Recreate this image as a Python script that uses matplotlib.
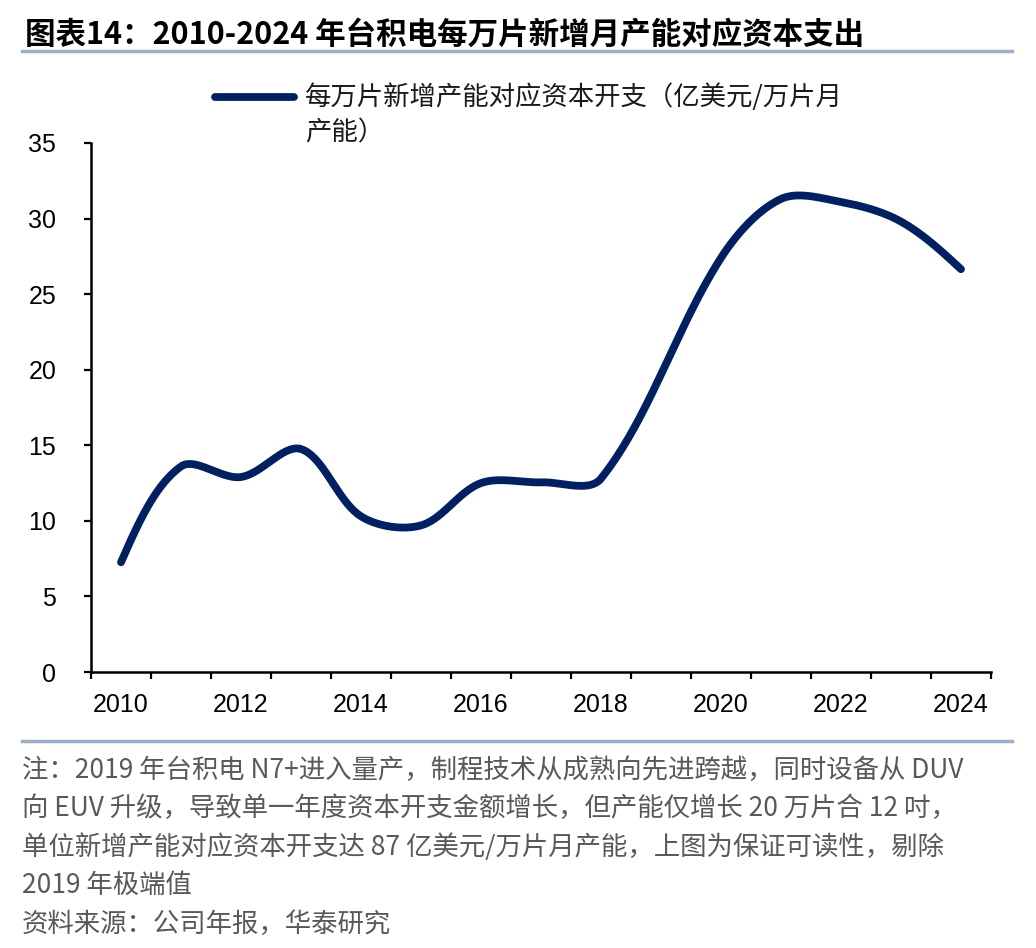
import numpy as np
import matplotlib.pyplot as plt
from matplotlib.lines import Line2D

# 数据：每万片新增月产能对应资本开支（亿美元/万片月产能），2019 年剔除
years = list(range(2010, 2025))
capex_per_wafer = [7.26, 13.6, 12.9, 14.75, 10.3, 9.7, 12.5, 12.55, 12.8, np.nan,
                   27.4, 31.3, 31.1, 29.8, 26.65]
tick_labels = [str(y) if y % 2 == 0 else '' for y in years]

title = '图表14：2010-2024 年台积电每万片新增月产能对应资本支出'
legend_lines = ['每万片新增产能对应资本开支（亿美元/万片月', '产能）']
notes = [
    '注：2019 年台积电 N7+进入量产，制程技术从成熟向先进跨越，同时设备从 DUV',
    '向 EUV 升级，导致单一年度资本开支金额增长，但产能仅增长 20 万片合 12 吋，',
    '单位新增产能对应资本开支达 87 亿美元/万片月产能，上图为保证可读性，剔除',
    '2019 年极端值',
    '资料来源：公司年报，华泰研究',
]

cjk = ['Noto Sans CJK SC', 'DejaVu Sans']
navy = '#002060'
W, H = 1036, 948


def fx(px):
    return px / W


def fy(py):
    return 1 - py / H


def smooth(xs, ys, ky, n=40):
    # 类似 Excel 的平滑线：贝塞尔控制点按相邻段长度分配，跳过缺失值
    xs = np.asarray(xs, float)
    ys = np.asarray(ys, float)
    ok = ~np.isnan(ys)
    pts = np.column_stack([xs[ok], ys[ok] * ky])
    m = len(pts)
    before = pts.copy()
    after = pts.copy()
    for i in range(1, m - 1):
        d = pts[i + 1] - pts[i - 1]
        l0 = np.linalg.norm(pts[i] - pts[i - 1])
        l1 = np.linalg.norm(pts[i + 1] - pts[i])
        before[i] = pts[i] - d * l0 / (l0 + l1) / 3
        after[i] = pts[i] + d * l1 / (l0 + l1) / 3
    after[0] = pts[0] + (before[1] - pts[0]) / 2
    before[-1] = pts[-1] + (after[-2] - pts[-1]) / 2
    out = []
    t = np.linspace(0, 1, n)[:, None]
    for i in range(m - 1):
        p1, c1, c2, p2 = pts[i], after[i], before[i + 1], pts[i + 1]
        seg = (1 - t) ** 3 * p1 + 3 * (1 - t) ** 2 * t * c1 + 3 * (1 - t) * t ** 2 * c2 + t ** 3 * p2
        out.append(seg if i == 0 else seg[1:])
    c = np.vstack(out)
    return c[:, 0], c[:, 1] / ky


fig = plt.figure(figsize=(W / 100, H / 100), dpi=100)
ax = fig.add_axes([fx(91), fy(672), fx(991) - fx(91), (672 - 143) / H])

x = np.arange(len(years))
sx, sy = smooth(x, capex_per_wafer, ky=15.11 / 60)
ax.plot(sx, sy, color=navy, lw=5.6, solid_capstyle='round', solid_joinstyle='round')

ax.set_xlim(-0.5, len(years) - 0.5)
ax.set_ylim(0, 35)
ax.set_yticks(np.arange(0, 36, 5))
ax.set_xticks(x)
ax.set_xticklabels(tick_labels)
ax.set_xticks(np.arange(-0.5, len(years), 1), minor=True)

ax.spines['top'].set_visible(False)
ax.spines['right'].set_visible(False)
for s in ['left', 'bottom']:
    ax.spines[s].set_linewidth(1.8)
    ax.spines[s].set_color('black')

ax.tick_params(axis='x', which='major', length=0, pad=15, labelsize=18)
ax.tick_params(axis='x', which='minor', length=5, width=1.6, direction='out')
ax.tick_params(axis='y', length=5, width=1.6, direction='out', pad=20, labelsize=18)
for lab in ax.get_xticklabels() + ax.get_yticklabels():
    lab.set_fontfamily('Liberation Sans')
    lab.set_color('black')

# 标题与分隔线
fig.text(fx(25), fy(35), title, fontsize=22, fontweight='bold', family=cjk,
         va='center', ha='left', color='black')
fig.add_artist(Line2D([fx(22), fx(1012)], [fy(51), fy(51)], color='#9db0c8', lw=2.5))
fig.add_artist(Line2D([fx(22), fx(1012)], [fy(741), fy(741)], color='#9db0c8', lw=2.5))

# 图例
fig.add_artist(Line2D([fx(215), fx(294)], [fy(97), fy(97)], color=navy, lw=5.6,
                      solid_capstyle='round'))
for i, line in enumerate(legend_lines):
    fig.text(fx(305), fy(97 + 36 * i), line, fontsize=19, family=cjk,
             va='center', ha='left', color='#1a1a1a')

# 注释与来源
for i, line in enumerate(notes):
    fig.text(fx(22), fy(770 + 38.5 * i), line, fontsize=19, family=cjk,
             va='center', ha='left', color='#595959')

fig.savefig('out.png', dpi=100)
